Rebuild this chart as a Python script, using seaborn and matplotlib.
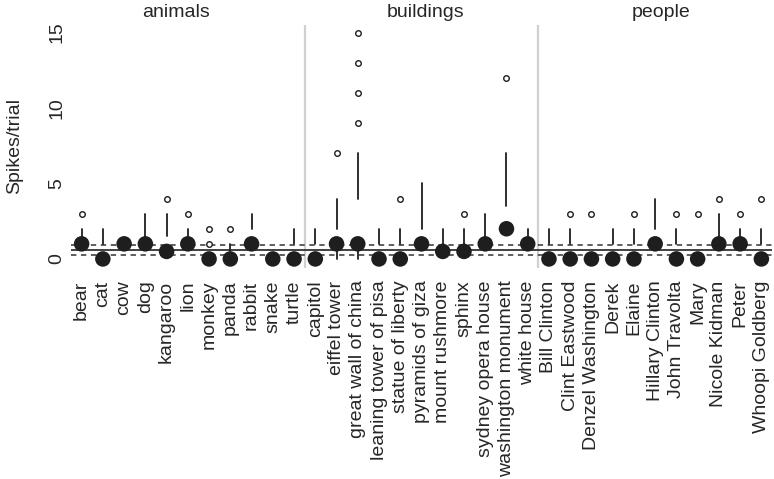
import pandas as pd
import matplotlib.pyplot as plt
import seaborn as sns

# Data (spikes per trial, per stimulus)
animals = ["bear", "cat", "cow", "dog", "kangaroo", "lion", "monkey", "panda",
           "rabbit", "snake", "turtle"]
buildings = ["capitol", "eiffel tower", "great wall of china", "leaning tower of pisa",
             "statue of liberty", "pyramids of giza", "mount rushmore", "sphinx",
             "sydney opera house", "washington monument", "white house"]
people = ["Bill Clinton", "Clint Eastwood", "Denzel Washington", "Derek", "Elaine",
          "Hillary Clinton", "John Travolta", "Mary", "Nicole Kidman", "Peter",
          "Whoopi Goldberg"]
groups = ["animals", "buildings", "people"]

low = [0] * 33
q1 = [0] * 11 + [0, 0.5, 0.5, 0, 0, 0, 0, 0, 0, 0, 0] + [0] * 11
median = ([1, 0, 1, 1, 0.5, 1, 0, 0, 1, 0, 0]
          + [0, 1, 1, 0, 0, 1, 0.5, 0.5, 1, 2, 1]
          + [0, 0, 0, 0, 0, 1, 0, 0, 1, 1, 0])
q3 = ([1, 1, 2, 1, 1.5, 1, 0, 0.5, 2, 1, 1]
      + [1, 2, 4, 1, 1, 2, 1, 1, 1, 3.5, 1]
      + [1, 1, 1, 1, 1, 2, 1, 1, 1, 1, 1])
high = ([2, 2, 2, 3, 3, 2, 0, 1, 3, 1, 2]
        + [2, 4, 7, 2, 2, 5, 2, 2, 3, 7, 2]
        + [2, 2, 1, 2, 2, 4, 2, 1, 3, 2, 2])
outliers = ([[3], [], [], [], [4], [3], [1, 2], [2], [], [], []]
            + [[], [7], [9, 11, 13, 15], [], [4], [], [], [3], [], [12], []]
            + [[], [3], [3], [], [3], [], [3], [3], [4], [3], [4]])

grand_mean = 0.6
ci_low, ci_high = 0.28, 0.9

# Build tables
names = animals + buildings + people
group_col = ["animals"] * len(animals) + ["buildings"] * len(buildings) + ["people"] * len(people)
df = pd.DataFrame({"name": names, "group": group_col, "low": low, "q1": q1,
                   "median": median, "q3": q3, "high": high})
df["pos"] = range(len(df))
out_df = pd.DataFrame([(i, v) for i, vals in enumerate(outliers) for v in vals],
                      columns=["pos", "value"])

# --- Plot ---
sns.set_style("white")
plt.rcParams['font.family'] = ['Liberation Sans', 'DejaVu Sans']

fig = plt.figure(figsize=(7.74, 4.79), dpi=100)
ax = fig.add_axes([71 / 774, 1 - 268 / 479, (772 - 71) / 774, (268 - 25) / 479])

ink = "#1e1e1e"

# reference lines
ax.axhline(grand_mean, color="#333333", lw=1.3, zorder=1)
for y in (ci_low, ci_high):
    ax.axhline(y, color="#333333", lw=1.1, ls=(0, (3.5, 3)), zorder=1)

# panel separators
sizes = df.groupby("group", sort=False).size().cumsum().tolist()
for b in sizes[:-1]:
    ax.axvline(b - 0.5, color="#d0d0d0", lw=1.6, zorder=0)

# whiskers
lc1 = ax.vlines(df["pos"], df["low"], df["q1"], color=ink, lw=1.3, zorder=2)
lc2 = ax.vlines(df["pos"], df["q3"], df["high"], color=ink, lw=1.3, zorder=2)
for lc in (lc1, lc2):
    lc.set_capstyle("round")

# medians and outliers
sns.scatterplot(data=df, x="pos", y="median", s=125, color=ink, edgecolor="none",
                ax=ax, zorder=3, legend=False)
sns.scatterplot(data=out_df, x="pos", y="value", s=16, facecolor="white",
                edgecolor=ink, linewidth=1.0, ax=ax, zorder=3, legend=False)

# group titles
title_x = [4.45, 16.2, 27.3]
for g, tx in zip(groups, title_x):
    ax.text(tx, 1.0 + 8 / 243, g, transform=ax.get_xaxis_transform(),
            ha="center", va="baseline", fontsize=14)

ax.set_xlim(-0.5, len(df) - 0.5)
ax.set_ylim(-0.6, 15.5)
ax.set_xticks(df["pos"])
ax.set_xticklabels(df["name"], rotation=90, fontsize=14, va="top", ha="center")
ax.set_yticks([0, 5, 10, 15])
ax.set_yticklabels(["0", "5", "10", "15"], rotation=90, fontsize=14, va="center")
ax.tick_params(axis="x", length=0, pad=9)
ax.tick_params(axis="y", length=0, pad=4)
ax.set_xlabel("")
ax.set_ylabel("Spikes/trial", fontsize=14, labelpad=18)
for s in ax.spines.values():
    s.set_visible(False)

plt.savefig("out.png", dpi=100)
plt.close()
